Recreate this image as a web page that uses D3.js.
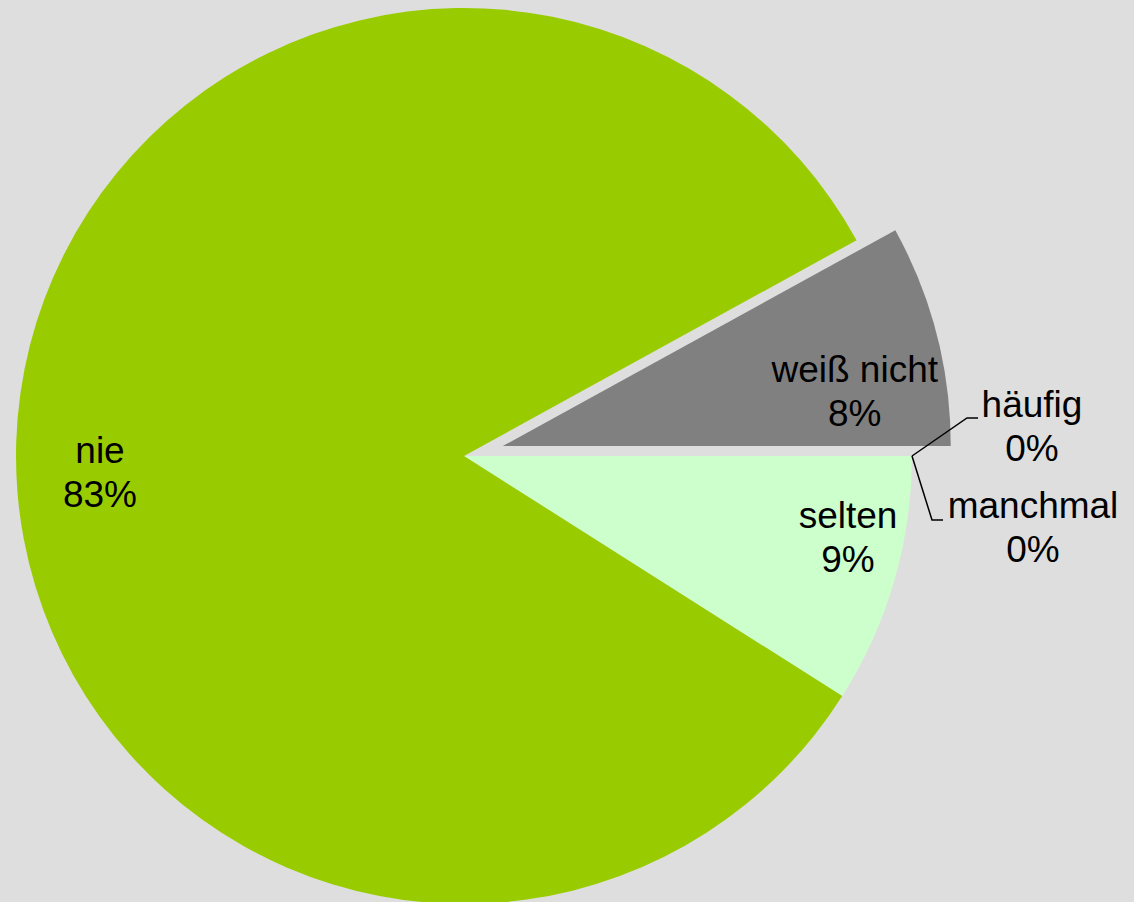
<!DOCTYPE html>
<html>
<head>
<meta charset="utf-8">
<script src="https://cdn.jsdelivr.net/npm/d3@7"></script>
<style>
  html, body { margin: 0; padding: 0; background: #dedede; }
  svg { display: block; }
  text { font-family: "Liberation Sans", Arial, sans-serif; font-size: 37px; fill: #000; }
</style>
</head>
<body>
<svg id="chart" width="1134" height="902"></svg>
<script>
// Survey answers, in the order the slices run clockwise from 3 o'clock
const categories = ["häufig", "manchmal", "selten", "nie", "weiß nicht"];
const values = [0, 0, 9, 83, 8];
const percentLabels = ["0%", "0%", "9%", "83%", "8%"];
const colors = ["#3366cc", "#66cc66", "#ccffcc", "#99cc00", "#808080"];
const exploded = ["weiß nicht"];

const width = 1134, height = 902;
const cx = 464, cy = 456, radius = 448, explodeDist = 40;
const lineGap = 44;

// Label anchor (first baseline, centred) relative to each slice's own centre
const labelOffset = {
  "häufig": [568, -39],
  "manchmal": [569, 62],
  "selten": [384, 72],
  "nie": [-364, 7],
  "weiß nicht": [352, -64]
};
// Elbow of the leader line for labels placed outside the pie
const leaderElbow = {
  "häufig": [[503, -38], [514, -38]],
  "manchmal": [[468, 64], [479, 64]]
};

const svg = d3.select("#chart");
const g = svg.append("g").attr("transform", `translate(${cx},${cy})`);

const pie = d3.pie().sort(null).value(d => d.value)
  .startAngle(Math.PI / 2).endAngle(Math.PI / 2 + 2 * Math.PI);
const arc = d3.arc().innerRadius(0).outerRadius(radius);

const data = categories.map((c, i) => ({ cat: c, value: values[i], label: percentLabels[i], color: colors[i] }));
const arcs = pie(data);

function shift(d) {
  if (!exploded.includes(d.data.cat)) return [0, 0];
  const mid = (d.startAngle + d.endAngle) / 2;
  return [Math.sin(mid) * explodeDist, -Math.cos(mid) * explodeDist];
}

g.selectAll("path.slice")
  .data(arcs.filter(d => d.value > 0))
  .join("path")
  .attr("class", "slice")
  .attr("transform", d => `translate(${shift(d)})`)
  .attr("d", arc)
  .attr("fill", d => d.data.color);

// Leader lines for zero-width slices
arcs.filter(d => leaderElbow[d.data.cat]).forEach(d => {
  const a = d.startAngle;
  const start = [Math.sin(a) * radius, -Math.cos(a) * radius];
  const pts = [start, ...leaderElbow[d.data.cat]];
  g.append("path")
    .attr("d", d3.line()(pts))
    .attr("fill", "none")
    .attr("stroke", "#000")
    .attr("stroke-width", 1.5);
});

// Category name and percentage, two centred lines
arcs.forEach(d => {
  const s = shift(d);
  const off = labelOffset[d.data.cat];
  const t = g.append("text")
    .attr("text-anchor", "middle")
    .attr("transform", `translate(${s[0] + off[0]},${s[1] + off[1]})`);
  t.append("tspan").attr("x", 0).attr("y", 0).text(d.data.cat);
  t.append("tspan").attr("x", 0).attr("y", lineGap).text(d.data.label);
});
</script>
</body>
</html>
